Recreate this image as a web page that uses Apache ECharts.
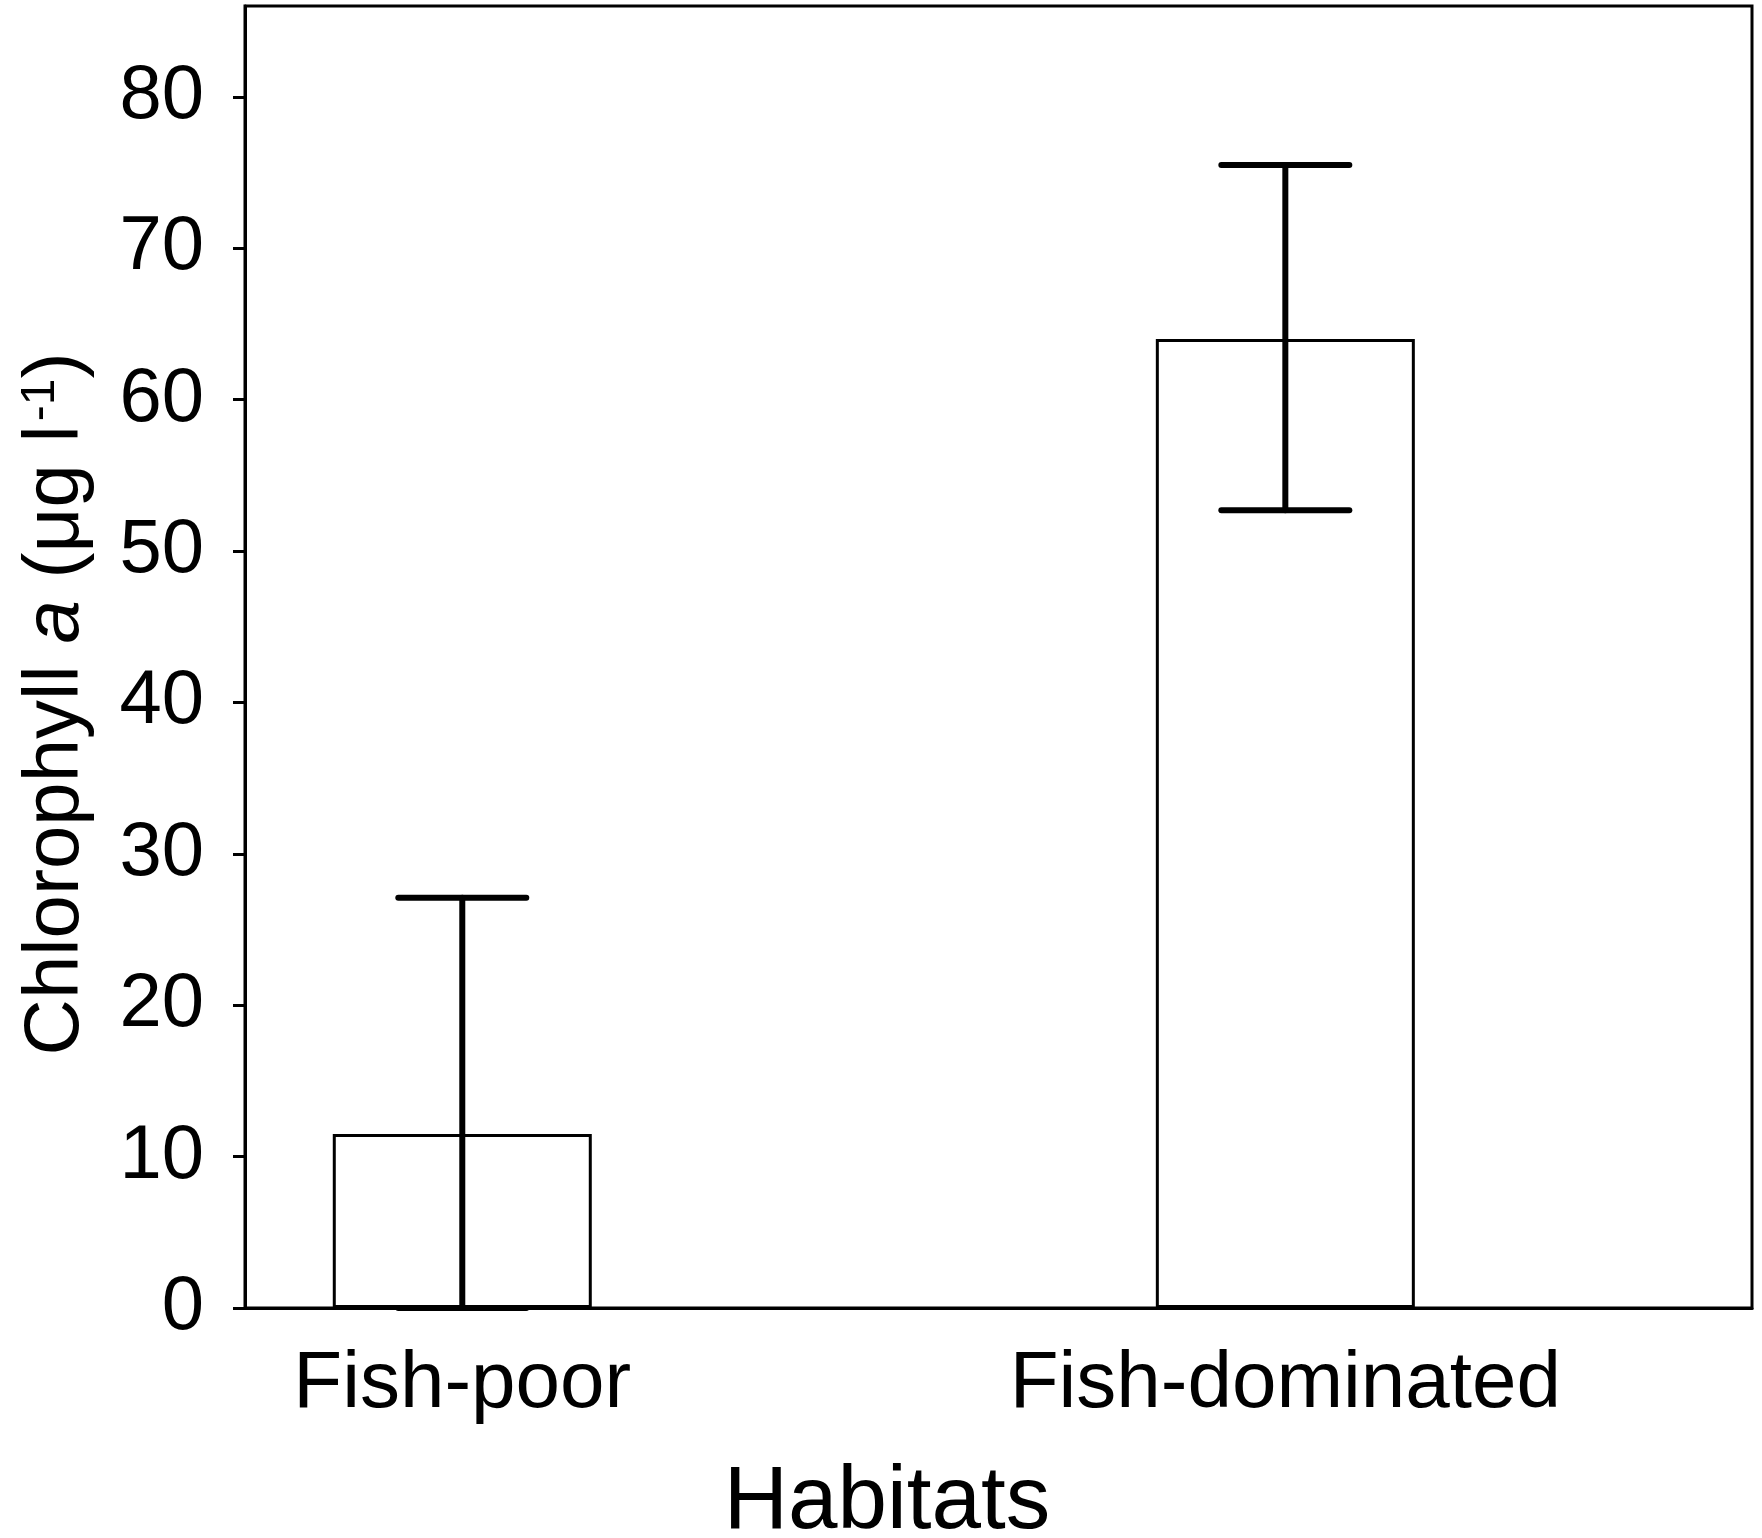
<!DOCTYPE html>
<html>
<head>
<meta charset="utf-8">
<title>Chlorophyll a by habitat</title>
<script src="https://cdn.jsdelivr.net/npm/echarts@6.0.0/dist/echarts.min.js"></script>
<style>
    html, body { margin: 0; padding: 0; background: #fff; }
    #chart { width: 1762px; height: 1538px; }
</style>
</head>
<body>
<div id="chart"></div>
<script>
(function(){
    // data
    var habitats = ['Fish-poor', 'Fish-dominated'];
    var habitatPos = [1, 2];
    var meanChl = [11.5, 64.0];
    var errLow = [0, 52.7];
    var errHigh = [27.1, 75.5];
    var yTicks = [0, 10, 20, 30, 40, 50, 60, 70, 80];

    var FONT = 'Liberation Sans, Arial, sans-serif';

    var barData = habitatPos.map(function(x, i){ return [x, meanChl[i]]; });
    var errData = habitatPos.map(function(x, i){ return [x, errLow[i], errHigh[i]]; });

    function renderErr(params, api){
        var x = api.value(0);
        var lo = api.coord([x, api.value(1)]);
        var hi = api.coord([x, api.value(2)]);
        var half = 64;
        var style = {stroke: '#000', lineWidth: 6, lineCap: 'round'};
        return {
            type: 'group',
            children: [
                {type: 'line', shape: {x1: hi[0], y1: hi[1], x2: lo[0], y2: lo[1]}, style: style},
                {type: 'line', shape: {x1: hi[0] - half, y1: hi[1], x2: hi[0] + half, y2: hi[1]}, style: style},
                {type: 'line', shape: {x1: lo[0] - half, y1: lo[1], x2: lo[0] + half, y2: lo[1]}, style: style}
            ]
        };
    }

    var myChart = echarts.init(document.getElementById('chart'));
    myChart.setOption({
        animation: false,
        backgroundColor: '#fff',
        title: {
            text: 'Habitats',
            left: 882,
            top: 1454,
            textAlign: 'center',
            textStyle: {fontSize: 89, fontWeight: 'normal', color: '#000', fontFamily: FONT}
        },
        grid: {
            left: 245, right: 10, top: 6, bottom: 230,
            show: true, borderColor: '#000', borderWidth: 3, backgroundColor: 'transparent'
        },
        xAxis: {
            type: 'value',
            min: 0.736,
            max: 2.567,
            splitLine: {show: false},
            axisTick: {show: false},
            axisLine: {lineStyle: {color: '#000', width: 3}},
            axisLabel: {
                customValues: habitatPos,
                formatter: function(v){ return habitats[habitatPos.indexOf(v)]; },
                margin: 37,
                fontSize: 80,
                color: '#000',
                fontFamily: FONT
            }
        },
        yAxis: {
            type: 'value',
            min: 0,
            max: 86,
            name: 'Chlorophyll {i|a} (μg l{s|-1})',
            nameLocation: 'middle',
            nameGap: 150,
            nameTextStyle: {
                fontSize: 78,
                color: '#000',
                fontFamily: FONT,
                padding: [0, 94, 0, 0],
                rich: {
                    i: {fontSize: 78, fontStyle: 'italic', color: '#000', fontFamily: FONT},
                    s: {fontSize: 48, color: '#000', fontFamily: FONT, verticalAlign: 'top', padding: [0, 0, 0, 4]}
                }
            },
            splitLine: {show: false},
            axisLine: {show: true, lineStyle: {color: '#000', width: 3}},
            axisTick: {customValues: yTicks, length: 12, lineStyle: {color: '#000', width: 3}},
            axisLabel: {
                customValues: yTicks,
                margin: 41,
                fontSize: 76,
                color: '#000',
                fontFamily: FONT
            }
        },
        series: [
            {
                name: 'Chlorophyll a',
                type: 'bar',
                barWidth: 259,
                data: barData,
                itemStyle: {color: '#fff', borderColor: '#000', borderWidth: 3}
            },
            {
                name: 'SE',
                type: 'custom',
                renderItem: renderErr,
                data: errData,
                z: 5
            }
        ]
    });
}());
</script>
</body>
</html>
